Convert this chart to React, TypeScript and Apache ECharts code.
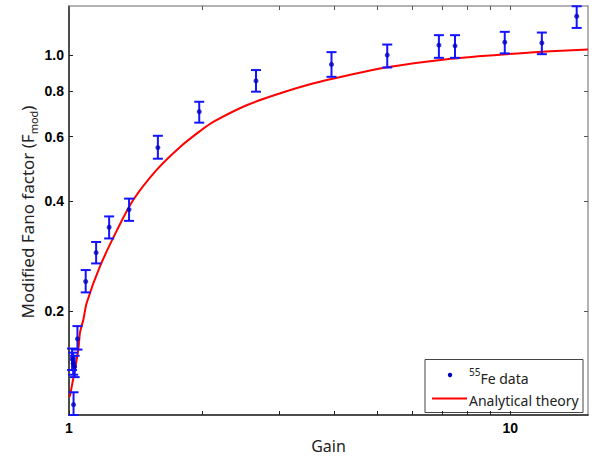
import React, { useEffect, useRef } from "react";
import * as echarts from "echarts";

// 55Fe measured data (gain, modified Fano factor, error bar low/high)
const gain = [1.024, 1.016, 1.022, 1.03, 1.045, 1.091, 1.152, 1.233, 1.368, 1.59, 1.973, 2.653, 3.934, 5.262, 6.89, 7.494, 9.716, 11.79, 14.14];
const fano = [0.111, 0.148, 0.144, 0.141, 0.168, 0.241, 0.289, 0.339, 0.379, 0.56, 0.702, 0.852, 0.945, 1.002, 1.067, 1.062, 1.087, 1.082, 1.28];
const fanoLow = [0.104, 0.138, 0.134, 0.132, 0.157, 0.225, 0.27, 0.316, 0.353, 0.522, 0.655, 0.796, 0.874, 0.927, 0.985, 0.985, 1.013, 1.008, 1.189];
const fanoHigh = [0.12, 0.158, 0.154, 0.151, 0.182, 0.259, 0.309, 0.363, 0.406, 0.603, 0.747, 0.912, 1.021, 1.071, 1.136, 1.136, 1.16, 1.155, 1.363];

// Analytical theory curve
const theoryGain = [1.0, 1.005, 1.05, 1.059, 1.078, 1.097, 1.176, 1.283, 1.399, 1.58, 1.786, 1.984, 2.127, 2.534, 3.013, 3.587, 4.27, 5.172, 7.335, 10.38, 12.33, 15.0];
const theoryFano = [0.1165, 0.1173, 0.1573, 0.1746, 0.1898, 0.2108, 0.2653, 0.3319, 0.4031, 0.4867, 0.5623, 0.6218, 0.659, 0.732, 0.788, 0.839, 0.881, 0.925, 0.979, 1.013, 1.027, 1.038];

// Axes
const xMin = 1;
const xMax = 15;
const yMin = 0.104;
const yMax = 1.365;
const xTickValues = [1, 2, 3, 4, 5, 6, 7, 8, 9, 10];
const xLabelValues = [1, 10];
const yTickValues = [0.2, 0.4, 0.6, 0.8, 1.0];

export default function App() {
  const ref = useRef<HTMLDivElement>(null);

  useEffect(() => {
    document.body.style.margin = "0";
    const chart = echarts.init(ref.current!, null, { renderer: "svg" });

    const lx = Math.log10;
    const tickFont = { fontFamily: "Liberation Sans", fontWeight: "bold" as const, fontSize: 14, color: "#000" };

    const scatterData = gain.map((g, i) => [g, fano[i]]);
    const errData = gain.map((g, i) => [g, fanoLow[i], fanoHigh[i]]);
    const theoryData = theoryGain.map((g, i) => [g, theoryFano[i]]);

    const option: any = {
      animation: false,
      backgroundColor: "#fff",
      grid: { left: 69, right: 9, top: 6, bottom: 43 },
      xAxis: [
        {
          type: "log", logBase: 10, min: xMin, max: xMax, position: "bottom",
          axisLine: { show: true, onZero: false, lineStyle: { color: "#111", width: 1.5 } },
          axisTick: { show: false }, axisLabel: { show: false }, splitLine: { show: false },
          name: "Gain", nameLocation: "middle", nameGap: 23,
          nameTextStyle: { fontFamily: "Noto Sans", fontSize: 16, color: "#222" },
        },
        {
          type: "value", min: lx(xMin), max: lx(xMax), position: "bottom",
          axisLine: { show: false, onZero: false },
          axisTick: { show: true, inside: true, length: 4, customValues: xTickValues.map(lx), lineStyle: { color: "#222" } },
          axisLabel: { show: true, margin: 6, customValues: xLabelValues.map(lx), showMinLabel: true, showMaxLabel: true,
            formatter: (v: number) => String(Math.round(Math.pow(10, v))), ...tickFont },
          splitLine: { show: false },
        },
        {
          type: "value", min: lx(xMin), max: lx(xMax), position: "top",
          axisLine: { show: true, onZero: false, lineStyle: { color: "#999", width: 1.5 } },
          axisTick: { show: true, inside: true, length: 4, customValues: xTickValues.map(lx), lineStyle: { color: "#555" } },
          axisLabel: { show: false }, splitLine: { show: false },
        },
      ],
      yAxis: [
        {
          type: "log", logBase: 10, min: yMin, max: yMax, position: "left",
          axisLine: { show: true, onZero: false, lineStyle: { color: "#111", width: 1.5 } },
          axisTick: { show: false }, axisLabel: { show: false }, splitLine: { show: false },
        },
        {
          type: "value", min: lx(yMin), max: lx(yMax), position: "left",
          axisLine: { show: false, onZero: false },
          axisTick: { show: true, inside: true, length: 4, customValues: yTickValues.map(lx), lineStyle: { color: "#222" } },
          axisLabel: { show: true, margin: 5, customValues: yTickValues.map(lx),
            formatter: (v: number) => Math.pow(10, v).toFixed(1), ...tickFont },
          splitLine: { show: false },
        },
        {
          type: "value", min: lx(yMin), max: lx(yMax), position: "right",
          axisLine: { show: true, onZero: false, lineStyle: { color: "#999", width: 1.5 } },
          axisTick: { show: true, inside: true, length: 4, customValues: yTickValues.map(lx), lineStyle: { color: "#555" } },
          axisLabel: { show: false }, splitLine: { show: false },
        },
      ],
      series: [
        {
          name: "Analytical theory", type: "line", xAxisIndex: 0, yAxisIndex: 0,
          data: theoryData, showSymbol: false, symbol: "none", smooth: 0.3,
          lineStyle: { color: "#ff0000", width: 2 }, z: 2,
        },
        {
          name: "errors", type: "custom", xAxisIndex: 0, yAxisIndex: 0,
          data: errData, encode: { x: 0, y: [1, 2] }, z: 3,
          renderItem: (params: any, api: any) => {
            const x = api.value(0);
            const lo = api.coord([x, api.value(1)]);
            const hi = api.coord([x, api.value(2)]);
            const hw = 5;
            const st = { stroke: "#1414ff", lineWidth: 2 };
            return {
              type: "group",
              children: [
                { type: "line", shape: { x1: lo[0], y1: lo[1], x2: hi[0], y2: hi[1] }, style: st },
                { type: "line", shape: { x1: lo[0] - hw, y1: lo[1], x2: lo[0] + hw, y2: lo[1] }, style: st },
                { type: "line", shape: { x1: hi[0] - hw, y1: hi[1], x2: hi[0] + hw, y2: hi[1] }, style: st },
              ],
            };
          },
        },
        {
          name: "55Fe data", type: "scatter", xAxisIndex: 0, yAxisIndex: 0,
          data: scatterData, symbol: "circle", symbolSize: 5,
          itemStyle: { color: "#0000c0" }, z: 4,
        },
      ],
      graphic: [
        {
          type: "text", x: 27, y: 212, rotation: Math.PI / 2,
          style: {
            text: "{n|Modified Fano factor (F}{s|mod}{n|)}",
            align: "center", verticalAlign: "middle",
            rich: {
              n: { fontFamily: "Noto Sans", fontSize: 17, lineHeight: 24, fill: "#222" },
              s: { fontFamily: "Noto Sans", fontSize: 11, verticalAlign: "bottom", fill: "#222" },
            },
          },
        },
        {
          type: "group",
          children: [
            { type: "rect", shape: { x: 425, y: 359.5, width: 158, height: 53 }, style: { fill: "#fff", stroke: "#444", lineWidth: 1 } },
            { type: "circle", shape: { cx: 450, cy: 375, r: 2.2 }, style: { fill: "#0000c0" } },
            {
              type: "text", x: 469, y: 378,
              style: {
                text: "{p|55}{t|Fe data}", align: "left", verticalAlign: "middle",
                rich: {
                  p: { fontFamily: "Noto Sans", fontSize: 10, verticalAlign: "top", fill: "#222" },
                  t: { fontFamily: "Noto Sans", fontSize: 14, lineHeight: 22, fill: "#222" },
                },
              },
            },
            { type: "line", shape: { x1: 432, y1: 398.5, x2: 467, y2: 398.5 }, style: { stroke: "#ff0000", lineWidth: 2 } },
            {
              type: "text", x: 469, y: 400,
              style: { text: "Analytical theory", align: "left", verticalAlign: "middle", fontFamily: "Noto Sans", fontSize: 14, fill: "#222" },
            },
          ],
        },
      ],
    };

    chart.setOption(option);
    return () => chart.dispose();
  }, []);

  return <div ref={ref} style={{ width: 597, height: 459 }} />;
}
